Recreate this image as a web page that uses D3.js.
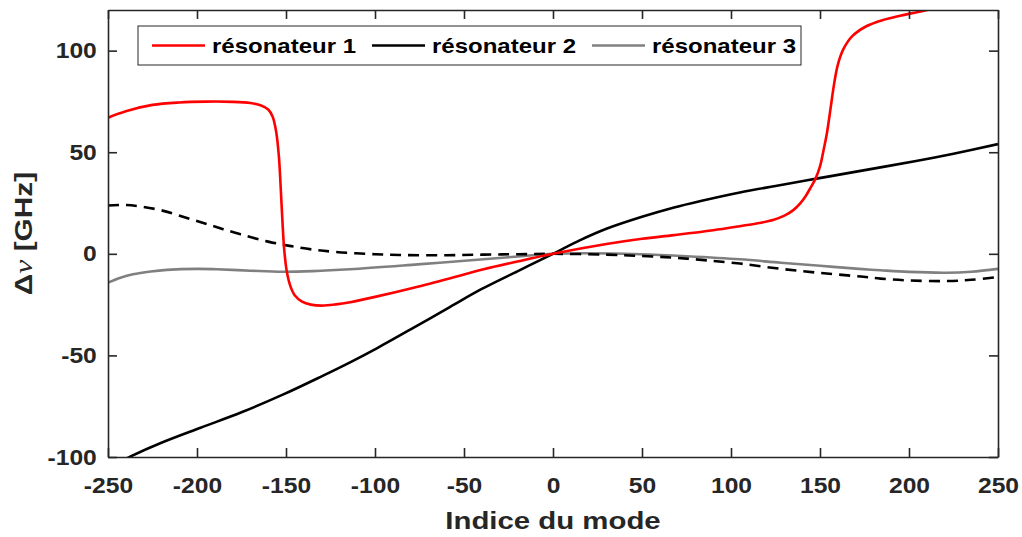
<!DOCTYPE html>
<html><head><meta charset="utf-8">
<script src="https://cdn.jsdelivr.net/npm/d3@7"></script>
<style>body{margin:0;background:#fff}svg{display:block}</style>
</head><body>
<svg id="c" width="1022" height="537"></svg>
<script>
// ---- data ----
const xTicks = [-250,-200,-150,-100,-50,0,50,100,150,200,250];
const yTicks = [-100,-50,0,50,100];
const legendLabels = ["résonateur 1","résonateur 2","résonateur 3"];

const res1X = [-250,-240,-225,-210,-195,-180,-170,-164,-160,-157.5,-155.5,-154,-153,-152,-151,-149.5,-147.5,-145,-141,-136,-130,-122,-114,-100,-76,-50,-39,-20,0,30,50,68,90,105,115,124,130,135,139,142,145,147.5,150,152,154,156,158,160,163,168,176,185,195,205,215];
const res1Y = [67,70.2,73.3,74.5,74.9,74.8,74.2,73,71,67.5,60,48,33,16,2,-9,-16,-20.5,-23.5,-25,-25.5,-24.9,-23.8,-21.2,-16.2,-10.2,-7.6,-3.8,0,4.8,7.4,9.2,11.6,13.6,15,16.8,18.8,21.5,25,28.5,33,37,43,51,60,72,84,93,100.5,107,112,115,117.2,119,121];

const res2X = [-250,-237,-220,-198,-175,-151.5,-130,-114,-99,-80,-58,-40,-20,0,15,30,50,68,83,105,125,148,172,204,225,250];
const res2Y = [-105.5,-99.6,-93,-85.6,-78,-69.2,-60.3,-53.4,-46.5,-37.2,-26.2,-17.3,-8.6,0,6.6,12.3,18.2,22.8,26,30.2,33.4,37,40.7,45.7,49.3,54];

const res2bX = [-250,-240,-232,-220,-204,-190,-176,-160,-148,-135,-122,-100,-86,-60,-39,-20,0,30,50,68,85,105,128,150,173,184,200,221,235,250];
const res2bY = [23.8,24,23.3,21.4,17.2,13.4,9.7,6,3.9,2.1,0.9,-0.2,-0.6,-0.7,-0.4,-0.2,0,-0.4,-1.1,-1.9,-3.1,-4.8,-7.4,-9.4,-11.2,-12.2,-13.1,-13.4,-12.8,-11.4];

const res3X = [-250,-243,-236,-226,-217,-200,-189,-170,-152,-135,-114,-76,-39,-20,0,20,49,75,105,128,150,172,184,200,221,235,250];
const res3Y = [-14.2,-11.8,-10.1,-8.7,-7.9,-7.4,-7.6,-8.3,-8.8,-8.5,-7.6,-5.2,-2.7,-1.3,0,0.3,-0.2,-1.2,-2.7,-4.4,-5.9,-7.4,-8.1,-8.9,-9.3,-8.8,-7.4];

// ---- layout ----
const L = 108, R = 998, T = 10, B = 457;
const ink = "#262626";
const svg = d3.select("#c");
const x = d3.scaleLinear().domain([-250,250]).range([L,R]);
const y = d3.scaleLinear().domain([-100,120]).range([B,T]);

svg.append("defs").append("clipPath").attr("id","clip")
  .append("rect").attr("x",L).attr("y",T).attr("width",R-L).attr("height",B-T);

const series = [
  {xs:res1X, ys:res1Y, color:"#ff0000", dash:null},
  {xs:res2X, ys:res2Y, color:"#000000", dash:null},
  {xs:res2bX, ys:res2bY, color:"#000000", dash:"11,7"},
  {xs:res3X, ys:res3Y, color:"#808080", dash:null}
];
const line = d3.line().x(d=>x(d[0])).y(d=>y(d[1])).curve(d3.curveCatmullRom.alpha(0.5));
const plot = svg.append("g").attr("clip-path","url(#clip)");
[3,2,1,0].forEach(i=>{
  const s = series[i];
  plot.append("path")
    .datum(s.xs.map((v,k)=>[v,s.ys[k]]))
    .attr("d",line).attr("fill","none")
    .attr("stroke",s.color).attr("stroke-width",2.6)
    .attr("stroke-dasharray",s.dash)
    .attr("stroke-linejoin","round");
});

// axes
const fontF = "'Liberation Sans', Arial, sans-serif";
const fmt = d => String(d);
function styleAxis(g){
  g.select(".domain").attr("stroke",ink).attr("stroke-width",1.6);
  g.selectAll(".tick line").attr("stroke",ink).attr("stroke-width",1.6);
  g.selectAll("text").attr("fill",ink).attr("font-family",fontF)
    .attr("font-weight","bold").attr("font-size",22);
}
const gx = svg.append("g").attr("transform",`translate(0,${B})`)
  .call(d3.axisBottom(x).tickValues(xTicks).tickSizeInner(-9).tickSizeOuter(0).tickPadding(20).tickFormat(fmt));
styleAxis(gx);
gx.selectAll("text").attr("transform","scale(1.12,1)");
const gy = svg.append("g").attr("transform",`translate(${L},0)`)
  .call(d3.axisLeft(y).tickValues(yTicks).tickSizeInner(-9).tickSizeOuter(0).tickPadding(10).tickFormat(fmt));
styleAxis(gy);
gy.selectAll("text").attr("transform","scale(1.12,1)");
const gt = svg.append("g").attr("transform",`translate(0,${T})`)
  .call(d3.axisTop(x).tickValues(xTicks).tickSizeInner(-9).tickSizeOuter(0).tickFormat(""));
styleAxis(gt);
const gr = svg.append("g").attr("transform",`translate(${R},0)`)
  .call(d3.axisRight(y).tickValues(yTicks).tickSizeInner(-9).tickSizeOuter(0).tickFormat(""));
styleAxis(gr);

// axis labels
svg.append("text").attr("transform",`translate(${(L+R)/2},529) scale(1.25,1)`)
  .attr("text-anchor","middle").attr("font-family",fontF).attr("font-weight","bold")
  .attr("font-size",23.5).attr("fill",ink).text("Indice du mode");
const yl = svg.append("text").attr("transform",`translate(31.5,${(T+B)/2}) rotate(-90) scale(1.27,1)`)
  .attr("text-anchor","middle").attr("font-family",fontF).attr("font-weight","bold")
  .attr("font-size",23.5).attr("fill",ink);
yl.append("tspan").text("Δ");
yl.append("tspan").attr("font-family","'Liberation Serif', serif").attr("font-style","italic")
  .attr("font-weight","normal").attr("font-size",25).text("ν");
yl.append("tspan").text(" [GHz]");

// legend
const lg = svg.append("g");
lg.append("rect").attr("x",138).attr("y",26).attr("width",663).attr("height",39)
  .attr("fill","#fff").attr("stroke",ink).attr("stroke-width",1);
const legColors = [series[0].color, series[1].color, series[3].color];
legendLabels.forEach((lab,i)=>{
  const x0 = 152 + i*220;
  lg.append("line").attr("x1",x0).attr("x2",x0+53).attr("y1",45.5).attr("y2",45.5)
    .attr("stroke",legColors[i]).attr("stroke-width",2.6);
  lg.append("text").attr("transform",`translate(${x0+60},52.5) scale(1.2,1)`)
    .attr("font-family",fontF).attr("font-weight","bold").attr("font-size",20)
    .attr("fill","#000").text(lab);
});
</script>
</body></html>
